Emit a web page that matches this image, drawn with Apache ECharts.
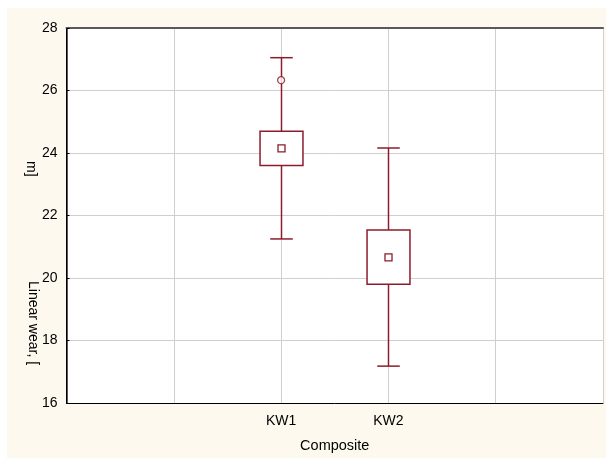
<!DOCTYPE html>
<html><head><meta charset="utf-8">
<script src="https://cdn.jsdelivr.net/npm/echarts@6/dist/echarts.min.js"></script>
<style>html,body{margin:0;padding:0;background:#fff}#c{width:606px;height:458px}</style>
</head><body><div id="c"></div>
<script>
const categories = ['KW1', 'KW2'];
const categoryPos = [2, 3];
const whiskerLow = [21.25, 17.18];
const boxLow = [23.60, 19.80];
const center = [24.15, 20.66];
const boxHigh = [24.70, 21.54];
const whiskerHigh = [27.05, 24.16];
const outliers = [[2, 26.33]];
const yTicks = [16, 18, 20, 22, 24, 26, 28];

const RED = '#8c1c2c';
const FONT = '"Liberation Sans", Arial, sans-serif';
const boxData = categories.map((c, i) => [categoryPos[i], whiskerLow[i], boxLow[i], center[i], boxHigh[i], whiskerHigh[i]]);

const chart = echarts.init(document.getElementById('c'));
chart.setOption({
  backgroundColor: '#fff',
  animation: false,
  graphic: [
    {type: 'rect', z: -10, silent: true, shape: {x: 7, y: 8, width: 599, height: 450}, style: {fill: '#fdf9ee'}},
    {type: 'text', z: 10, x: 40, y: 281, rotation: -Math.PI / 2,
      style: {text: 'Linear wear, [', font: '14px ' + FONT, fill: '#000', textVerticalAlign: 'top'}},
    {type: 'text', z: 10, x: 38, y: 161, rotation: -Math.PI / 2,
      style: {text: 'm]', font: '14px ' + FONT, fill: '#000', textVerticalAlign: 'top'}}
  ],
  grid: {left: 66.5, right: 2.5, top: 28, bottom: 50.5, show: true, backgroundColor: '#fff', borderWidth: 0},
  xAxis: [{
    type: 'value', min: 0, max: 5, interval: 1, position: 'bottom',
    axisLine: {show: true, lineStyle: {color: '#000', width: 1}},
    axisTick: {show: false},
    splitLine: {show: true, lineStyle: {color: '#cfcfcf', width: 1}},
    axisLabel: {
      margin: 11, color: '#000', fontSize: 14, fontFamily: FONT,
      formatter: v => { const i = categoryPos.indexOf(v); return i >= 0 ? categories[i] : ''; }
    },
    name: 'Composite', nameLocation: 'middle', nameGap: 35,
    nameTextStyle: {color: '#000', fontSize: 14.5, fontFamily: FONT}
  }, {
    type: 'value', min: 0, max: 5, interval: 1, position: 'top',
    axisLine: {show: true, lineStyle: {color: '#5a5a5a', width: 2}},
    axisTick: {show: false}, axisLabel: {show: false}, splitLine: {show: false}
  }],
  yAxis: [{
    type: 'value', min: 16, max: 28, interval: 2, position: 'left',
    axisLine: {show: true, lineStyle: {color: '#5a5a5a', width: 2}},
    axisTick: {show: false},
    splitLine: {show: true, lineStyle: {color: '#cfcfcf', width: 1}},
    axisLabel: {margin: 9, color: '#000', fontSize: 14, fontFamily: FONT,
      formatter: v => yTicks.includes(v) ? String(v) : ''}
  }, {
    type: 'value', min: 16, max: 28, interval: 2, position: 'right',
    axisLine: {show: true, lineStyle: {color: '#000', width: 1}},
    axisTick: {show: true, inside: false, length: 3, lineStyle: {color: '#000'}},
    axisLabel: {show: false}, splitLine: {show: false}
  }],
  series: [{
    type: 'custom',
    xAxisIndex: 0, yAxisIndex: 0,
    data: boxData,
    renderItem: function (params, api) {
      const x = api.value(0);
      const pLow = api.coord([x, api.value(1)]);
      const pBL = api.coord([x, api.value(2)]);
      const pC = api.coord([x, api.value(3)]);
      const pBH = api.coord([x, api.value(4)]);
      const pHigh = api.coord([x, api.value(5)]);
      const halfBox = api.size([0.2, 0])[0];
      const halfCap = api.size([0.105, 0])[0];
      const cx = Math.round(pC[0]) + 0.5;
      const ls = {stroke: RED, lineWidth: 1.5, fill: null};
      return {
        type: 'group',
        children: [
          {type: 'line', shape: {x1: cx, y1: pHigh[1], x2: cx, y2: pBH[1]}, style: ls},
          {type: 'line', shape: {x1: cx, y1: pBL[1], x2: cx, y2: pLow[1]}, style: ls},
          {type: 'line', shape: {x1: cx - halfCap, y1: pHigh[1], x2: cx + halfCap, y2: pHigh[1]}, style: ls},
          {type: 'line', shape: {x1: cx - halfCap, y1: pLow[1], x2: cx + halfCap, y2: pLow[1]}, style: ls},
          {type: 'rect', shape: {x: cx - halfBox, y: pBH[1], width: 2 * halfBox, height: pBL[1] - pBH[1]},
            style: {stroke: RED, lineWidth: 1.5, fill: '#fff'}},
          {type: 'rect', shape: {x: cx - 3.5, y: pC[1] - 3.5, width: 7, height: 7},
            style: {stroke: RED, lineWidth: 1.3, fill: '#fff'}}
        ]
      };
    }
  }, {
    type: 'scatter',
    xAxisIndex: 0, yAxisIndex: 0,
    data: outliers,
    symbol: 'circle', symbolSize: 7,
    itemStyle: {color: '#fff', borderColor: RED, borderWidth: 1.3}
  }]
});
</script></body></html>
